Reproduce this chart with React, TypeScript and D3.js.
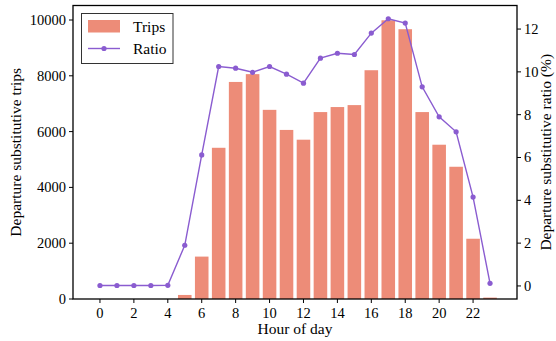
import React from "react";
import * as d3 from "d3";

const hours = d3.range(0, 24);
const trips = [0, 0, 0, 0, 0, 145, 1520, 5420, 7780, 8060, 6780, 6060, 5710, 6700, 6880, 6950, 8200, 9990, 9670, 6700, 5530, 4740, 2160, 50];
const ratio = [0.02, 0.02, 0.02, 0.02, 0.03, 1.9, 6.12, 10.25, 10.17, 9.98, 10.25, 9.89, 9.47, 10.64, 10.87, 10.81, 11.81, 12.48, 12.28, 9.3, 7.9, 7.2, 4.15, 0.12];
const xTicks = [0, 2, 4, 6, 8, 10, 12, 14, 16, 18, 20, 22];
const leftTicks = [0, 2000, 4000, 6000, 8000, 10000];
const rightTicks = [0, 2, 4, 6, 8, 10, 12];

const W = 556, H = 341;
const L = 73, R = 517, T = 5.5, B = 299;
const barColor = "#ed8c78";
const lineColor = "#8a5cd0";
const font = "'Liberation Serif', 'Times New Roman', serif";

export default function App() {
  const x = d3.scaleLinear().domain([-1.59, 24.59]).range([L, R]);
  const yL = d3.scaleLinear().domain([0, 10520]).range([B, T]);
  const yR = d3.scaleLinear().domain([-0.61, 13.1]).range([B, T]);
  const bw = x(0.8) - x(0);
  const line = d3.line<number>().x((_, i) => x(hours[i])).y((d) => yR(d));
  return (
    <svg width={W} height={H} style={{ position: "absolute", left: 0, top: 0 }} fontFamily={font}>
      <rect width={W} height={H} fill="#fff" />
      {trips.map((v, i) => (
        <rect key={i} x={x(hours[i]) - bw / 2} y={yL(v)} width={bw} height={Math.max(0, B - yL(v))} fill={barColor} />
      ))}
      <path d={line(ratio) || ""} fill="none" stroke={lineColor} strokeWidth={1.4} />
      {ratio.map((v, i) => (
        <circle key={i} cx={x(hours[i])} cy={yR(v)} r={2.6} fill={lineColor} />
      ))}
      <rect x={L} y={T} width={R - L} height={B - T} fill="none" stroke="#000" strokeWidth={1.3} />
      {xTicks.map((t) => (
        <g key={t}>
          <line x1={x(t)} x2={x(t)} y1={B} y2={B + 4} stroke="#000" strokeWidth={1} />
          <text x={x(t)} y={B + 19} fontSize={14.5} textAnchor="middle" fill="#000">{t}</text>
        </g>
      ))}
      {leftTicks.map((t) => (
        <g key={t}>
          <line x1={L - 4} x2={L} y1={yL(t)} y2={yL(t)} stroke="#000" strokeWidth={1} />
          <text x={L - 7} y={yL(t) + 5} fontSize={14.5} textAnchor="end" fill="#000">{t}</text>
        </g>
      ))}
      {rightTicks.map((t) => (
        <g key={t}>
          <line x1={R} x2={R + 4} y1={yR(t)} y2={yR(t)} stroke="#000" strokeWidth={1} />
          <text x={R + 7} y={yR(t) + 5} fontSize={14.5} textAnchor="start" fill="#000">{t}</text>
        </g>
      ))}
      <text x={(L + R) / 2} y={334} fontSize={15.5} textAnchor="middle" fill="#000">Hour of day</text>
      <text transform={`translate(21, ${(T + B) / 2}) rotate(-90)`} fontSize={15.5} textAnchor="middle" fill="#000">Departure substitutive trips</text>
      <text transform={`translate(551, ${(T + B) / 2}) rotate(-90)`} fontSize={15.5} textAnchor="middle" fill="#000">Departure substitutive ratio (%)</text>
      <g>
        <rect x={81.5} y={13.5} width={91.5} height={50} fill="#fff" stroke="#333" strokeWidth={1} />
        <rect x={88} y={20} width={32} height={12.5} fill={barColor} />
        <text x={133} y={31.5} fontSize={15.5} fill="#000">Trips</text>
        <line x1={88} x2={120} y1={48.5} y2={48.5} stroke={lineColor} strokeWidth={1.4} />
        <circle cx={104} cy={48.5} r={2.6} fill={lineColor} />
        <text x={133} y={54} fontSize={15.5} fill="#000">Ratio</text>
      </g>
    </svg>
  );
}
